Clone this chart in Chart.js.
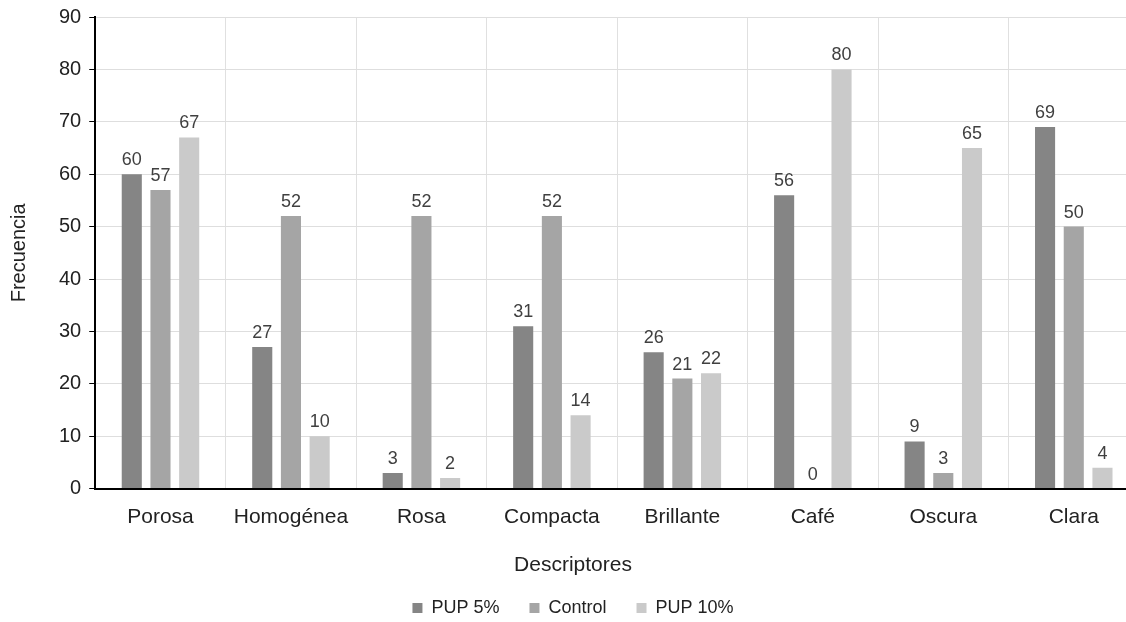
<!DOCTYPE html>
<html>
<head>
<meta charset="utf-8">
<script src="https://cdn.jsdelivr.net/npm/chart.js@4/dist/chart.umd.min.js"></script>
<style>
  html, body { margin: 0; padding: 0; background: #fff; overflow: hidden; }
  #wrap { width: 1126px; height: 622px; overflow: hidden; }
</style>
</head>
<body>
<div id="wrap"><canvas id="descriptores" width="1140" height="627"></canvas></div>
<script>
// Datos
const categorias = ['Porosa', 'Homogénea', 'Rosa', 'Compacta', 'Brillante', 'Café', 'Oscura', 'Clara'];
const pup5 = [60, 27, 3, 31, 26, 56, 9, 69];
const control = [57, 52, 52, 52, 21, 0, 3, 50];
const pup10 = [67, 10, 2, 14, 22, 80, 65, 4];
const ticksY = [0, 10, 20, 30, 40, 50, 60, 70, 80, 90];

const fuente = '"Liberation Sans", Arial, sans-serif';

// etiquetas de valor encima de cada barra
const etiquetas = {
  id: 'etiquetas',
  afterDatasetsDraw(chart) {
    const ctx = chart.ctx;
    ctx.save();
    ctx.font = '18px ' + fuente;
    ctx.fillStyle = '#404040';
    ctx.textAlign = 'center';
    ctx.textBaseline = 'bottom';
    chart.data.datasets.forEach((ds, i) => {
      chart.getDatasetMeta(i).data.forEach((bar, j) => {
        ctx.fillText(ds.data[j], bar.x, bar.y - 5);
      });
    });
    ctx.restore();
  }
};

const ctx = document.getElementById('descriptores');
new Chart(ctx, {
  type: 'bar',
  data: {
    labels: categorias,
    datasets: [
      { label: 'PUP 5%', data: pup5, backgroundColor: '#858585' },
      { label: 'Control', data: control, backgroundColor: '#a5a5a5' },
      { label: 'PUP 10%', data: pup10, backgroundColor: '#cacaca' }
    ]
  },
  options: {
    responsive: false,
    animation: false,
    categoryPercentage: 0.66,
    barPercentage: 0.7,
    layout: { padding: { top: 5, right: 1, left: 7, bottom: 0 } },
    scales: {
      x: {
        grid: { color: '#e0e0e0', drawTicks: false, offset: true },
        border: { color: '#000', width: 2 },
        ticks: { color: '#222', font: { size: 21, family: fuente }, padding: 16 }
      },
      y: {
        min: 0,
        max: 90,
        afterBuildTicks(axis) { axis.ticks = ticksY.map(v => ({ value: v })); },
        grid: { color: '#dedede', tickColor: '#000', tickLength: 6 },
        border: { color: '#000', width: 2 },
        ticks: { color: '#222', font: { size: 20, family: fuente, lineHeight: 0.9 }, padding: 8 },
        title: { display: true, text: 'Frecuencia', color: '#222', font: { size: 20, family: fuente }, padding: { top: 0, bottom: 20 } }
      }
    },
    plugins: {
      tooltip: { enabled: false },
      subtitle: {
        display: true,
        position: 'bottom',
        text: 'Descriptores',
        color: '#222',
        weight: 500,
        font: { size: 21, family: fuente, weight: 'normal' },
        padding: { top: 7, bottom: -9 }
      },
      legend: {
        position: 'bottom',
        weight: 1000,
        labels: {
          boxWidth: 10,
          boxHeight: 10,
          padding: 30,
          color: '#222',
          font: { size: 18, family: fuente }
        }
      }
    }
  },
  plugins: [etiquetas]
});
</script>
</body>
</html>
